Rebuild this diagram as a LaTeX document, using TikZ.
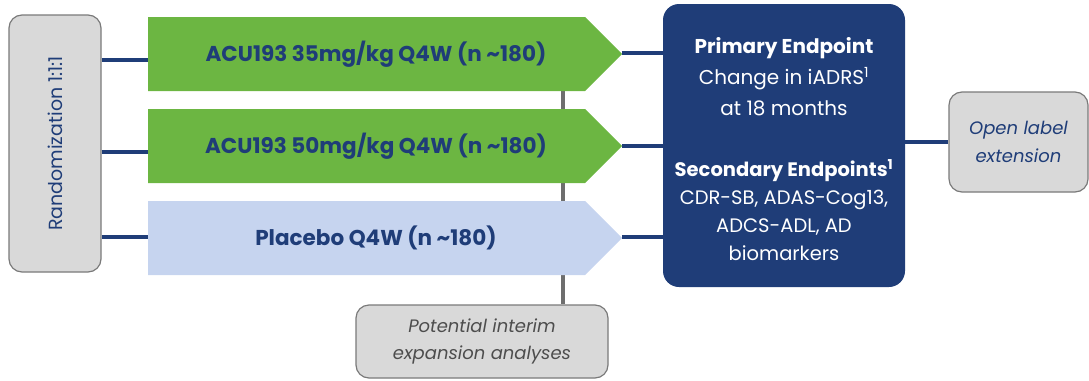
\documentclass[tikz,border=0pt]{standalone}
\usepackage{fontspec}
\setmainfont{Poppins}
\definecolor{navy}{HTML}{1F3D78}
\definecolor{armgreen}{HTML}{6CB642}
\definecolor{plblue}{HTML}{C6D4EF}
\definecolor{boxgray}{HTML}{D9D9D9}
\definecolor{bordergray}{HTML}{7A7A7A}
\definecolor{txtgray}{HTML}{4D4D4D}
\definecolor{vgray}{HTML}{6E6E6E}
\begin{document}
\begin{tikzpicture}[x=1pt,y=-1pt,
  graybox/.style={draw=bordergray, fill=boxgray, rounded corners=13pt, line width=1.2pt},
  link/.style={draw=navy, line width=3.6pt},
  vlink/.style={draw=vgray, line width=3.2pt},
  armtext/.style={text=navy, font=\fontsize{21.5}{24}\selectfont\bfseries},
  eptext/.style={text=white, align=center, font=\fontsize{20}{31}\selectfont},
]
\useasboundingbox (0,0) rectangle (1089,380);
% coordinates
\coordinate (v1) at (563,91);
\coordinate (a1w) at (148,60);
\coordinate (a2w) at (148,152);
\coordinate (a3w) at (148,237);
\coordinate (a1e) at (622,53);
\coordinate (a2e) at (622,146);
\coordinate (a3e) at (622,237);
% gray boxes
\node[graybox, minimum width=92pt, minimum height=257pt] (rand) at (55,143.5) {};
\node[rotate=90, text=navy, font=\fontsize{19}{22}\selectfont] (randt) at (rand.center) {Randomization 1:1:1};
\node[graybox, minimum width=252pt, minimum height=73pt, align=center, text=txtgray,
      font=\fontsize{18}{27}\selectfont\itshape] (interim) at (482,341.5) {Potential interim\\expansion analyses};
% vertical line
\draw[vlink] (v1) -- (v1 |- interim.north);
% arms
\fill[armgreen] (148,17) -- (585,17) -- (622,54) -- (585,91) -- (148,91) -- cycle;
\fill[armgreen] (148,109) -- (585,109) -- (622,146) -- (585,183) -- (148,183) -- cycle;
\fill[plblue] (148,201) -- (585,201) -- (622,238) -- (585,275) -- (148,275) -- cycle;
\node[armtext] (arm1) at (376,54) {ACU193 35mg/kg Q4W (n \textasciitilde180)};
\node[armtext] (arm2) at (376,146) {ACU193 50mg/kg Q4W (n \textasciitilde180)};
\node[armtext] (arm3) at (376,238) {Placebo Q4W (n \textasciitilde180)};
% endpoint box
\node[fill=navy, rounded corners=16pt, minimum width=242pt, minimum height=283pt] (ep) at (784,145.5) {};
\node[eptext] (prim) at (784,77) {\textbf{Primary Endpoint}\\Change in iADRS\textsuperscript{1}\\at 18 months};
\node[eptext, font=\fontsize{19.5}{28}\selectfont] (sec) at (784,210) {\textbf{Secondary Endpoints\textsuperscript{1}}\\CDR-SB, ADAS-Cog13,\\ADCS-ADL, AD\\biomarkers};
% open label
\node[graybox, minimum width=139pt, minimum height=100pt, align=center, text=navy,
      font=\fontsize{18}{28}\selectfont\itshape] (ole) at (1018.5,142) {Open label\\extension};
% connectors
\draw[link] (rand.east |- a1w) -- (a1w);
\draw[link] (rand.east |- a2w) -- (a2w);
\draw[link] (rand.east |- a3w) -- (a3w);
\draw[link] (a1e) -- (ep.west |- a1e);
\draw[link] (a2e) -- (ep.west |- a2e);
\draw[link] (a3e) -- (ep.west |- a3e);
\draw[link] (ep.east |- ole.west) -- (ole.west);
\end{tikzpicture}
\end{document}
